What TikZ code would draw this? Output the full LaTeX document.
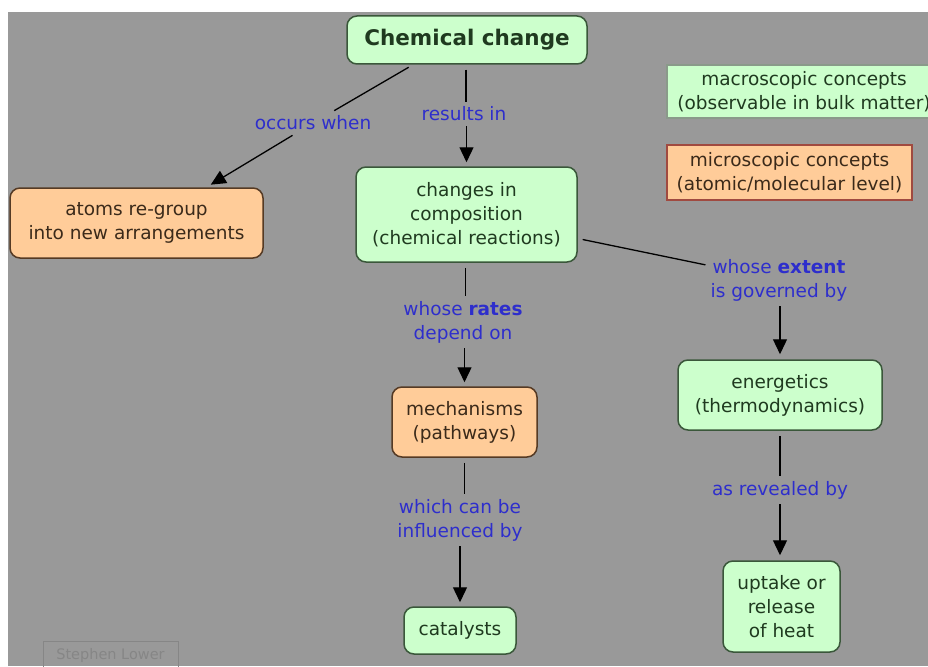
\documentclass[tikz,border=0pt]{standalone}
\usepackage{fontspec}
\setmainfont{DejaVu Sans}
\usetikzlibrary{arrows.meta}
\definecolor{bggray}{HTML}{999999}
\definecolor{gfill}{HTML}{CCFFCC}
\definecolor{gdraw}{HTML}{3A573A}
\definecolor{gtext}{HTML}{1F3A1F}
\definecolor{ofill}{HTML}{FFCC99}
\definecolor{odraw}{HTML}{553A24}
\definecolor{otext}{HTML}{3B2A1A}
\definecolor{lblue}{HTML}{2E2ECC}
\definecolor{micdraw}{HTML}{A04A40}
\definecolor{macdraw}{HTML}{8A9A8A}
\definecolor{slgray}{HTML}{868686}
\tikzset{
  base/.style={align=center, inner sep=0pt, line width=1.5pt, rounded corners=10pt,
    font=\fontsize{18.5}{24}\selectfont},
  green/.style={base, fill=gfill, draw=gdraw, text=gtext},
  orange/.style={base, fill=ofill, draw=odraw, text=otext},
  lbl/.style={align=center, inner sep=5pt, text=lblue, font=\fontsize{18.5}{24}\selectfont},
  conn/.style={line width=1.3pt, black},
  arr/.style={conn, -{Triangle[width=14pt,length=15pt]}},
}
\begin{document}
\begin{tikzpicture}[x=1pt, y=-1pt]
\useasboundingbox (0,0) rectangle (928,666);
\clip (0,0) rectangle (928,666);
\fill[white] (0,0) rectangle (928,666);
\fill[bggray] (8,12) rectangle (928,666);

% nodes
\node[green, minimum width=240pt, minimum height=48pt, font=\fontsize{21.5}{26}\selectfont\bfseries] (cc) at (467,40) {Chemical change};
\node[orange, minimum width=253pt, minimum height=70pt] (at) at (136.5,223) {atoms re-group\\into new arrangements};
\node[green, minimum width=221pt, minimum height=95pt] (ch) at (466.5,214.5) {changes in\\composition\\(chemical reactions)};
\node[orange, minimum width=145pt, minimum height=70pt] (me) at (464.5,422) {mechanisms\\(pathways)};
\node[green, minimum width=204pt, minimum height=70pt] (en) at (780,395) {energetics\\(thermodynamics)};
\node[green, minimum width=112pt, minimum height=47pt] (ca) at (460,630.5) {catalysts};
\node[green, minimum width=117pt, minimum height=91pt] (up) at (781.5,606.5) {uptake or\\release\\of heat};

% legend
\node[green, rounded corners=0pt, draw=macdraw, minimum width=274pt, minimum height=53pt] (mac) at (804,91.5) {macroscopic concepts\\(observable in bulk matter)};
\node[orange, rounded corners=0pt, draw=micdraw, minimum width=245pt, minimum height=55pt] (mic) at (789.5,172.5) {microscopic concepts\\(atomic/molecular level)};
\node[draw=slgray, line width=0.8pt, text=slgray, inner sep=0pt, minimum width=135pt, minimum height=30pt, font=\fontsize{14.5}{16}\selectfont] (sl) at (110.5,656) {\raisebox{5pt}{Stephen Lower}};

% labels
\node[lbl] (occ) at (313,123) {occurs when};
\node[lbl] (res) at (464,114) {results in};
\node[lbl] (rat) at (463,322) {whose \textbf{rates}\\depend on};
\node[lbl] (ext) at (779,280) {whose \textbf{extent}\\is governed by};
\node[lbl] (whi) at (460,520) {which can be\\influenced by};
\node[lbl] (rev) at (780,490) {as revealed by};

% connectors
\draw[conn, shorten <=5pt] ([xshift=-54pt]cc.south) -- (occ);
\draw[arr, shorten >=5pt] (occ) -- ([xshift=70pt]at.north);
\draw[conn, shorten <=5pt] ([xshift=-1pt]cc.south) -- ([xshift=-1pt]cc.south |- res.north);
\draw[arr, shorten >=4pt] (res.south -| ch.north) -- (ch.north);
\draw[conn, shorten <=5pt] ([xshift=-1pt]ch.south) -- ([xshift=-1pt]ch.south |- rat.north);
\draw[arr, shorten >=4pt] (rat.south -| me.north) -- (me.north);
\draw[conn, shorten <=5pt] ([yshift=-24pt]ch.east) -- (ext);
\draw[arr, shorten >=5pt] (ext.south -| en.north) -- (en.north);
\draw[conn, shorten <=5pt] (me.south) -- (me.south |- whi.north);
\draw[arr, shorten >=4pt] (whi.south -| ca.north) -- (ca.north);
\draw[conn, shorten <=5pt] (en.south) -- (en.south |- rev.north);
\draw[arr, shorten >=5pt] (rev.south -| en.south) -- (en.south |- up.north);
\end{tikzpicture}
\end{document}
